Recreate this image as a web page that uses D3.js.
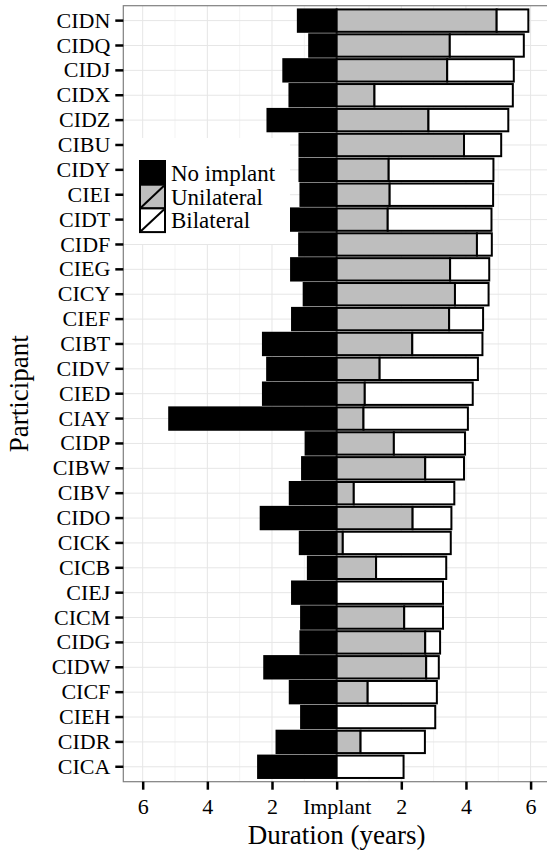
<!DOCTYPE html>
<html>
<head>
<meta charset="utf-8">
<script src="https://cdn.jsdelivr.net/npm/d3@7"></script>
<style>
  body { margin: 0; background: #fff; }
  text { font-family: "Liberation Serif", "DejaVu Serif", serif; fill: #000; }
</style>
</head>
<body>
<div id="wrapper"></div>
<script>
// participants, top to bottom
const participants = ["CIDN","CIDQ","CIDJ","CIDX","CIDZ","CIBU","CIDY","CIEI","CIDT","CIDF",
    "CIEG","CICY","CIEF","CIBT","CIDV","CIED","CIAY","CIDP","CIBW","CIBV",
    "CIDO","CICK","CICB","CIEJ","CICM","CIDG","CIDW","CICF","CIEH","CIDR","CICA"];
// years without implant (drawn to the left)
const noImplant = [1.20,0.85,1.65,1.46,2.14,1.15,1.15,1.12,1.42,1.16,
    1.41,1.02,1.38,2.28,2.15,2.28,5.18,0.96,1.07,1.45,
    2.35,1.14,0.89,1.38,1.10,1.12,2.24,1.45,1.10,1.86,2.43];
// years with one implant
const unilateral = [4.95,3.50,3.42,1.17,2.84,3.94,1.61,1.64,1.58,4.34,
    3.51,3.66,3.48,2.34,1.33,0.87,0.83,1.77,2.74,0.53,
    2.35,0.19,1.22,0,2.09,2.74,2.77,0.96,0,0.74,0];
// years with two implants
const bilateral = [0.98,2.29,2.06,4.28,2.47,1.15,3.24,3.20,3.21,0.46,
    1.21,1.04,1.05,2.17,3.04,3.34,3.23,2.20,1.20,3.11,
    1.20,3.34,2.17,3.29,1.20,0.46,0.39,2.14,3.05,1.99,2.07];
const xTicks = [-6,-4,-2,0,2,4,6];
const xMinor = [-5,-3,-1,1,3,5];
const legendLabels = ["No implant","Unilateral","Bilateral"];
const legendFills = ["#000000","#bebebe","#ffffff"];

const fontStack = "'Liberation Serif', 'DejaVu Serif', serif";

function buildPlot() {
    const dimension = {
        width: 547,
        height: 854,
        margin: { top: 5.7, left: 123.3, bottom: 72.3, right: -3 }
    };
    dimension.boundedWidth = dimension.width - dimension.margin.left - dimension.margin.right;
    dimension.boundedHeight = dimension.height - dimension.margin.top - dimension.margin.bottom;

    const rows = participants.map((p, i) => ({
        name: p, none: noImplant[i], uni: unilateral[i], bil: bilateral[i]
    }));

    const svg = d3.select("#wrapper").append("svg")
        .attr("width", dimension.width)
        .attr("height", dimension.height);

    const bounded = svg.append("g")
        .attr("transform", `translate(${dimension.margin.left},${dimension.margin.top})`);

    const xScaler = d3.scaleLinear()
        .domain([-6.6, 6.6])
        .range([0, dimension.boundedWidth]);

    const yScaler = d3.scaleBand()
        .domain(participants)
        .range([0, dimension.boundedHeight])
        .paddingInner(0.1)
        .paddingOuter(0.15);

    // grid
    bounded.append("g").selectAll("line")
        .data(xMinor).join("line")
        .attr("x1", d => xScaler(d)).attr("x2", d => xScaler(d))
        .attr("y1", 0).attr("y2", dimension.boundedHeight)
        .attr("stroke", "#f3f3f3").attr("stroke-width", 1);
    bounded.append("g").selectAll("line")
        .data(xTicks).join("line")
        .attr("x1", d => xScaler(d)).attr("x2", d => xScaler(d))
        .attr("y1", 0).attr("y2", dimension.boundedHeight)
        .attr("stroke", "#e6e6e6").attr("stroke-width", 1);
    bounded.append("g").selectAll("line")
        .data(participants).join("line")
        .attr("x1", 0).attr("x2", dimension.boundedWidth)
        .attr("y1", d => yScaler(d) + yScaler.bandwidth() / 2)
        .attr("y2", d => yScaler(d) + yScaler.bandwidth() / 2)
        .attr("stroke", "#e6e6e6").attr("stroke-width", 1);

    // stacked right side
    const stacked = d3.stack().keys(["uni", "bil"])(rows);

    const bars = bounded.append("g");
    bars.selectAll("rect.none")
        .data(rows).join("rect")
        .attr("class", "none")
        .attr("x", d => xScaler(-d.none))
        .attr("width", d => xScaler(0) - xScaler(-d.none))
        .attr("y", d => yScaler(d.name))
        .attr("height", yScaler.bandwidth())
        .attr("fill", legendFills[0])
        .attr("stroke", "#000").attr("stroke-width", 2);

    stacked.forEach((layer, k) => {
        bars.append("g").selectAll("rect")
            .data(layer.filter(s => s[1] - s[0] > 0)).join("rect")
            .attr("x", s => xScaler(s[0]))
            .attr("width", s => xScaler(s[1]) - xScaler(s[0]))
            .attr("y", s => yScaler(s.data.name))
            .attr("height", yScaler.bandwidth())
            .attr("fill", legendFills[k + 1])
            .attr("stroke", "#000").attr("stroke-width", 2);
    });

    // panel border
    bounded.append("rect")
        .attr("x", 0).attr("y", 0)
        .attr("width", dimension.boundedWidth)
        .attr("height", dimension.boundedHeight)
        .attr("fill", "none")
        .attr("stroke", "#7f7f7f").attr("stroke-width", 1.2);

    // axes
    const x_axis = d3.axisBottom(xScaler)
        .tickValues(xTicks)
        .tickSize(8)
        .tickPadding(9)
        .tickFormat(d => d === 0 ? "Implant" : Math.abs(d));
    const gx = bounded.append("g")
        .attr("transform", `translate(0,${dimension.boundedHeight})`)
        .call(x_axis)
        .attr("font-family", fontStack);
    gx.select(".domain").remove();
    gx.selectAll(".tick line").attr("stroke", "#000").attr("stroke-width", 2.5);
    gx.selectAll(".tick text")
        .style("font-size", "22px")
        .style("font-family", fontStack);

    const y_axis = d3.axisLeft(yScaler)
        .tickSize(8)
        .tickPadding(5);
    const gy = bounded.append("g").call(y_axis)
        .attr("font-family", fontStack);
    gy.select(".domain").remove();
    gy.selectAll(".tick line").attr("stroke", "#000").attr("stroke-width", 2.5);
    gy.selectAll(".tick text")
        .style("font-size", "22px")
        .style("font-family", fontStack);

    svg.append("text")
        .attr("x", dimension.margin.left + xScaler(0))
        .attr("y", 844)
        .attr("text-anchor", "middle")
        .style("font-size", "27px")
        .style("font-family", fontStack)
        .text("Duration (years)");

    svg.append("text")
        .attr("transform", `translate(28,${dimension.margin.top + dimension.boundedHeight / 2}) rotate(-90)`)
        .attr("text-anchor", "middle")
        .style("font-size", "27px")
        .style("font-family", fontStack)
        .text("Participant");

    // legend
    const legend = svg.append("g");
    legend.append("rect")
        .attr("x", 124).attr("y", 138)
        .attr("width", 166).attr("height", 106)
        .attr("fill", "#fff");
    const keySize = 23.7;
    const keys = legend.selectAll("g.key")
        .data(legendLabels).join("g")
        .attr("class", "key")
        .attr("transform", (d, i) => `translate(140,${161 + i * keySize})`);
    keys.append("rect")
        .attr("width", 25).attr("height", keySize)
        .attr("fill", (d, i) => legendFills[i])
        .attr("stroke", "#000").attr("stroke-width", 2);
    keys.append("line")
        .attr("x1", 1).attr("y1", keySize - 1)
        .attr("x2", 24).attr("y2", 1)
        .attr("stroke", "#000").attr("stroke-width", 2);
    keys.append("text")
        .attr("x", 31).attr("y", keySize / 2)
        .attr("dy", "0.35em")
        .style("font-size", "23px")
        .style("font-family", fontStack)
        .text(d => d);
}
buildPlot();
</script>
</body>
</html>
